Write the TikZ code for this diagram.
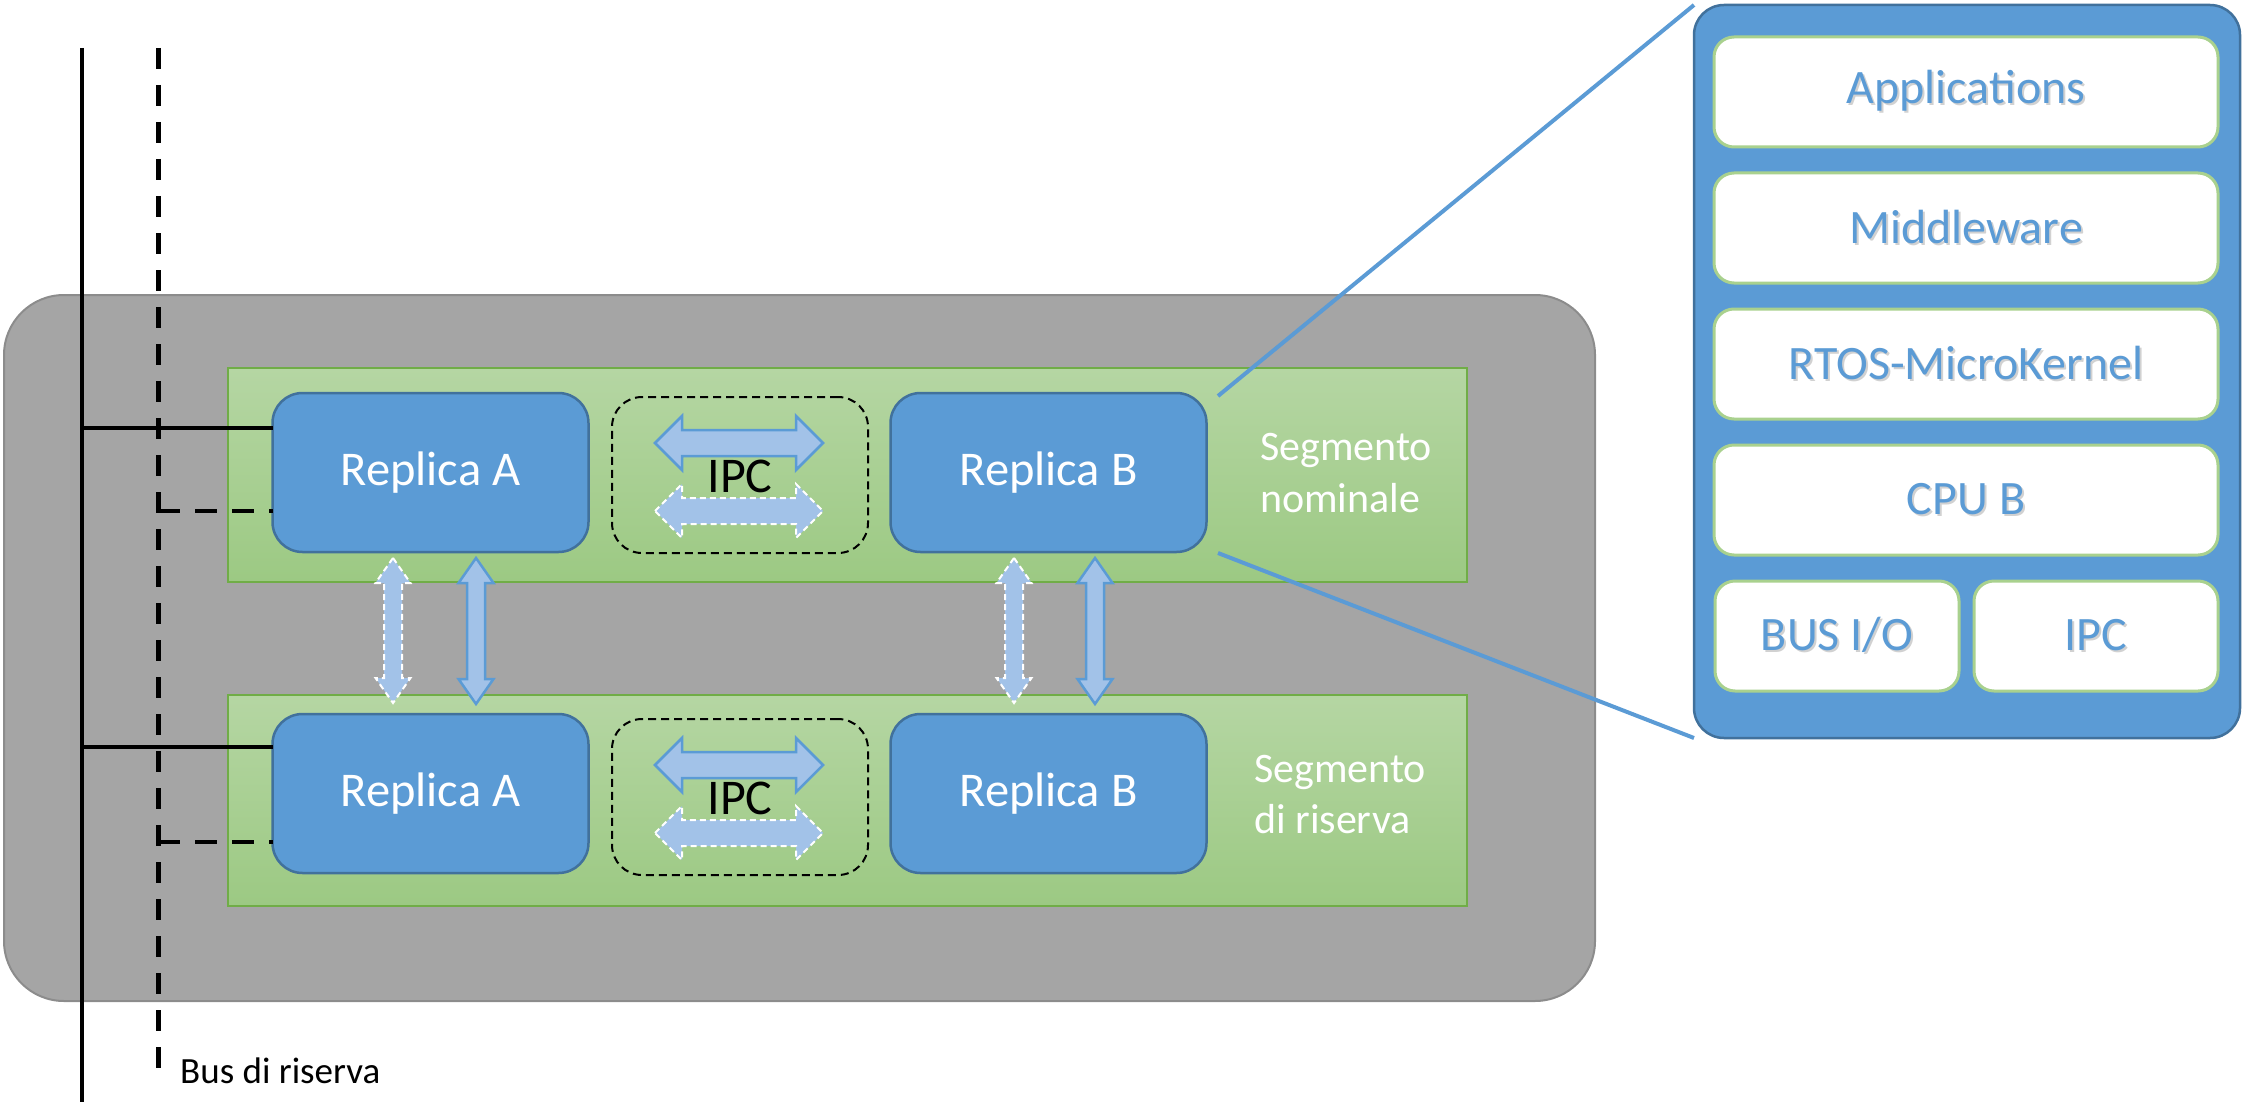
\documentclass[tikz,border=0pt]{standalone}
\usepackage{fontspec}
\setmainfont{Carlito}
\usetikzlibrary{calc}

\definecolor{frameFill}{HTML}{A5A5A5}
\definecolor{frameLine}{HTML}{8C8C8C}
\definecolor{segTop}{HTML}{B5D6A3}
\definecolor{segBot}{HTML}{9CC983}
\definecolor{segLine}{HTML}{70AD47}
\definecolor{repFill}{HTML}{5B9BD5}
\definecolor{repLine}{HTML}{41719C}
\definecolor{arrFill}{HTML}{A2C2E8}
\definecolor{layerLine}{HTML}{A9D18E}
\definecolor{layerText}{HTML}{5B9BD5}

% double-headed block arrows (pixel units)
\newcommand\hdarrow[4]{% style, x left, x right, y centre
  \draw[#1] (#2,#4) -- ({#2+27},{#4-27}) -- ({#2+27},{#4-13}) -- ({#3-27},{#4-13})
    -- ({#3-27},{#4-27}) -- (#3,#4) -- ({#3-27},{#4+27}) -- ({#3-27},{#4+13})
    -- ({#2+27},{#4+13}) -- ({#2+27},{#4+27}) -- cycle;}
\newcommand\vdarrow[4]{% style, x centre, y top, y bottom
  \draw[#1] (#2,#3) -- ({#2+17.5},{#3+25}) -- ({#2+9},{#3+25}) -- ({#2+9},{#4-25})
    -- ({#2+17.5},{#4-25}) -- (#2,#4) -- ({#2-17.5},{#4-25}) -- ({#2-9},{#4-25})
    -- ({#2-9},{#3+25}) -- ({#2-17.5},{#3+25}) -- cycle;}
\newcommand\softshadow[1]{\leavevmode\rlap{\kern2pt\raisebox{-2pt}{\textcolor{black!18}{#1}}}#1}

\tikzset{
  frame/.style={draw=frameLine, line width=2pt, fill=frameFill, rounded corners=60pt,
    inner sep=0pt, outer sep=0pt},
  segment/.style={draw=segLine, line width=1.5pt, top color=segTop, bottom color=segBot,
    inner sep=0pt, outer sep=0pt, minimum width=1239pt},
  replica/.style={draw=repLine, line width=2.5pt, fill=repFill, rounded corners=30pt,
    minimum width=316pt, minimum height=159pt, inner sep=0pt, outer sep=0pt,
    text=white, font=\fontsize{48.5}{58}\selectfont},
  ipcbox/.style={draw=black, line width=2pt, dash pattern=on 8pt off 5pt,
    rounded corners=30pt, minimum width=256pt, minimum height=156pt, inner sep=0pt},
  ipclabel/.style={text=black, font=\fontsize{50}{60}\selectfont, inner sep=0pt},
  seglabel/.style={text=white, anchor=base west, inner sep=0pt,
    font=\fontsize{42}{52}\selectfont},
  arrsolid/.style={fill=arrFill, draw=repFill, line width=2.5pt, line join=miter},
  arrdashed/.style={fill=arrFill, draw=white, line width=2pt, dash pattern=on 6pt off 4pt},
  busline/.style={draw=black, line width=4pt},
  busdash/.style={draw=black, line width=5pt, dash pattern=on 21pt off 16pt},
  tapdash/.style={draw=black, line width=4.5pt, dash pattern=on 22pt off 15pt},
  zoomline/.style={draw=repFill, line width=4pt},
  panel/.style={draw=repLine, line width=2.5pt, fill=repFill, rounded corners=30pt,
    inner sep=0pt, outer sep=0pt, minimum width=546pt, minimum height=733pt},
  layer/.style={draw=layerLine, line width=3pt, fill=white, rounded corners=20pt,
    inner sep=0pt, minimum height=110pt, text=layerText,
    font=\fontsize{48}{58}\selectfont},
}

\begin{document}
\begin{tikzpicture}[x=1pt, y=-1pt]
\useasboundingbox (0,0) rectangle (2242,1102);

% system enclosure
\node[frame, minimum width=1591pt, minimum height=706pt] (enc) at (799.5,648) {};

% the two segments
\node[segment, minimum height=214pt] (segN) at (847.5,475) {};
\node[segment, minimum height=211pt] (segR) at (847.5,800.5) {};

% replicas
\node[replica] (ra1) at (430.5,472.5) {Replica A};
\node[replica] (rb1) at (1048.5,472.5) {Replica B};
\node[replica] (ra2) at (430.5,793.5) {Replica A};
\node[replica] (rb2) at (1048.5,793.5) {Replica B};

% IPC groups
\node[ipcbox] (ipc1) at (740,475) {};
\node[ipcbox] (ipc2) at (740,797) {};
\hdarrow{arrsolid}{655}{823}{443}
\hdarrow{arrdashed}{655}{823}{511}
\hdarrow{arrsolid}{655}{823}{765}
\hdarrow{arrdashed}{655}{823}{833}
\node[ipclabel] (ipcl1) at (740,476) {IPC};
\node[ipclabel] (ipcl2) at (740,798) {IPC};

% segment labels
\node[seglabel] (lblN1) at (1260,460) {Segmento};
\node[seglabel] (lblN2) at (1260,512) {nominale};
\node[seglabel] (lblR1) at (1254,782) {Segmento};
\node[seglabel] (lblR2) at (1254,833) {di riserva};

% links between the segments
\vdarrow{arrdashed}{393}{558}{703}
\vdarrow{arrsolid}{476}{558}{704}
\vdarrow{arrdashed}{1014}{558}{703}
\vdarrow{arrsolid}{1095}{558}{704}

% buses
\coordinate (busTop) at (82,48);
\coordinate (busBot) at (82,1102);
\coordinate (resTop) at (158,48);
\coordinate (resBot) at (158,1070);
\draw[busline] (busTop) -- (busBot);
\draw[busdash] (resTop) -- (resBot);

\path ([yshift=44.5pt]ra1.west) coordinate (tapA1)
      ([yshift=-38.5pt]ra1.west) coordinate (tapB1)
      ([yshift=46.5pt]ra2.west) coordinate (tapA2)
      ([yshift=-48.5pt]ra2.west) coordinate (tapB2);
\draw[busline] (tapA1 -| busTop) -- (tapA1);
\draw[busline] (tapA2 -| busTop) -- (tapA2);
\draw[tapdash] (tapB1 -| resTop) -- (tapB1);
\draw[tapdash] (tapB2 -| resTop) -- (tapB2);

\node[anchor=base west, inner sep=0pt, font=\fontsize{37}{44}\selectfont] (busLbl)
  at (180,1083) {Bus di riserva};

% detail of Replica B
\node[panel] (pnl) at (1967,371.5) {};
\coordinate (zoomA) at (1218,396);
\coordinate (zoomB) at (1218,553);
\draw[zoomline] (zoomA) -- (pnl.north west);
\draw[zoomline] (zoomB) -- (pnl.south west);

\node[layer, minimum width=504pt] (app) at (1966,92) {\softshadow{Applications}};
\node[layer, minimum width=504pt] (mid) at (1966,228) {\softshadow{Middleware}};
\node[layer, minimum width=504pt] (rtos) at (1966,364) {\softshadow{RTOS-MicroKernel}};
\node[layer, minimum width=504pt] (cpu) at (1966,500) {\softshadow{CPU B}};
\node[layer, minimum width=244pt] (bus) at (1837,636) {\softshadow{BUS I/O}};
\node[layer, minimum width=244pt] (ipc) at (2096,636) {\softshadow{IPC}};
\end{tikzpicture}
\end{document}
